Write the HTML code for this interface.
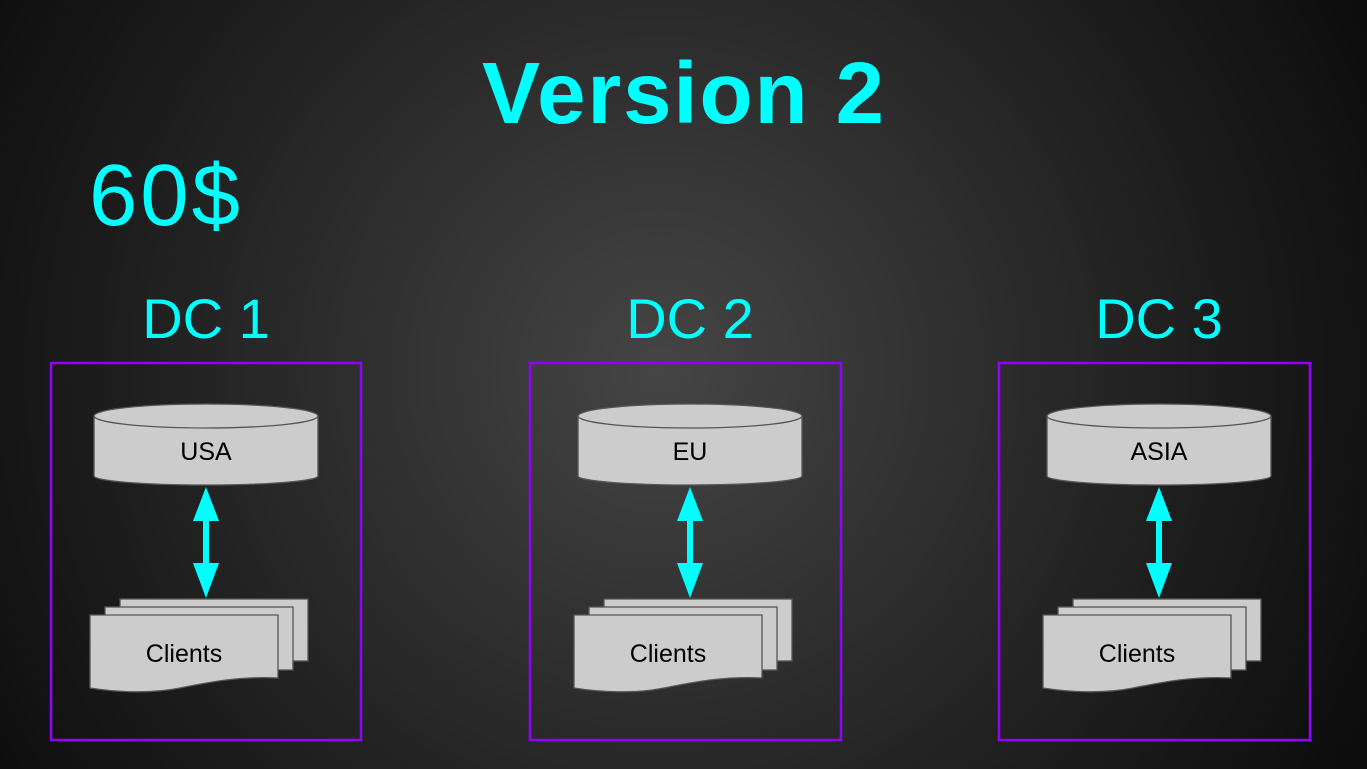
<!DOCTYPE html>
<html><head><meta charset="utf-8"><style>
html,body{margin:0;padding:0;width:1367px;height:769px;overflow:hidden;background:#1a1a1a}
svg{display:block}
text{font-family:"Liberation Sans",sans-serif}
</style></head><body>
<svg width="1367" height="769" viewBox="0 0 1367 769" xmlns="http://www.w3.org/2000/svg">
<defs>
<radialGradient id="bg" cx="660" cy="370" r="800" gradientUnits="userSpaceOnUse">
<stop offset="0" stop-color="#454545"/>
<stop offset="0.6" stop-color="#222"/>
<stop offset="1" stop-color="#0c0c0c"/>
</radialGradient>
<g id="inner">
<path d="M94,416 L94,476 A112,9 0 0 0 318,476 L318,416" fill="#cccccc" stroke="#555" stroke-width="1.3"/>
<ellipse cx="206" cy="416" rx="112" ry="12" fill="#cccccc" stroke="#555" stroke-width="1.3"/>
<rect x="203" y="518" width="6" height="50" fill="#00ffff"/>
<polygon points="206,487 193,521 219,521" fill="#00ffff"/>
<polygon points="206,598 193,563 219,563" fill="#00ffff"/>
<rect x="120" y="599" width="188" height="62" fill="#cccccc" stroke="#555" stroke-width="1.3"/>
<rect x="105" y="607" width="188" height="63" fill="#cccccc" stroke="#555" stroke-width="1.3"/>
<path d="M90,615 L278,615 L278,678 C240,676 210,682 180,688 C150,694 115,692 90,688 Z" fill="#cccccc" stroke="#555" stroke-width="1.3"/>
</g>
</defs>
<rect width="1367" height="769" fill="url(#bg)"/>
<text x="683" y="123" text-anchor="middle" font-size="87" font-weight="bold" fill="#00ffff" textLength="402">Version 2</text>
<text x="89" y="225" font-size="87" fill="#00ffff" textLength="151">60$</text>
<text x="206" y="338" text-anchor="middle" font-size="56" fill="#00ffff">DC 1</text>
<text x="690" y="338" text-anchor="middle" font-size="56" fill="#00ffff">DC 2</text>
<text x="1159" y="338" text-anchor="middle" font-size="56" fill="#00ffff">DC 3</text>

<rect x="51" y="363" width="310" height="377" fill="none" stroke="#9400ff" stroke-width="2.5"/>
<rect x="530" y="363" width="311" height="377" fill="none" stroke="#9400ff" stroke-width="2.5"/>
<rect x="999" y="363" width="311" height="377" fill="none" stroke="#9400ff" stroke-width="2.5"/>

<use href="#inner"/>
<use href="#inner" transform="translate(484,0)"/>
<use href="#inner" transform="translate(953,0)"/>

<g font-size="25" fill="#000" text-anchor="middle">
<text x="206" y="460">USA</text>
<text x="690" y="460">EU</text>
<text x="1159" y="460">ASIA</text>
<text x="184" y="662">Clients</text>
<text x="668" y="662">Clients</text>
<text x="1137" y="662">Clients</text>
</g>
</svg>
</body></html>
